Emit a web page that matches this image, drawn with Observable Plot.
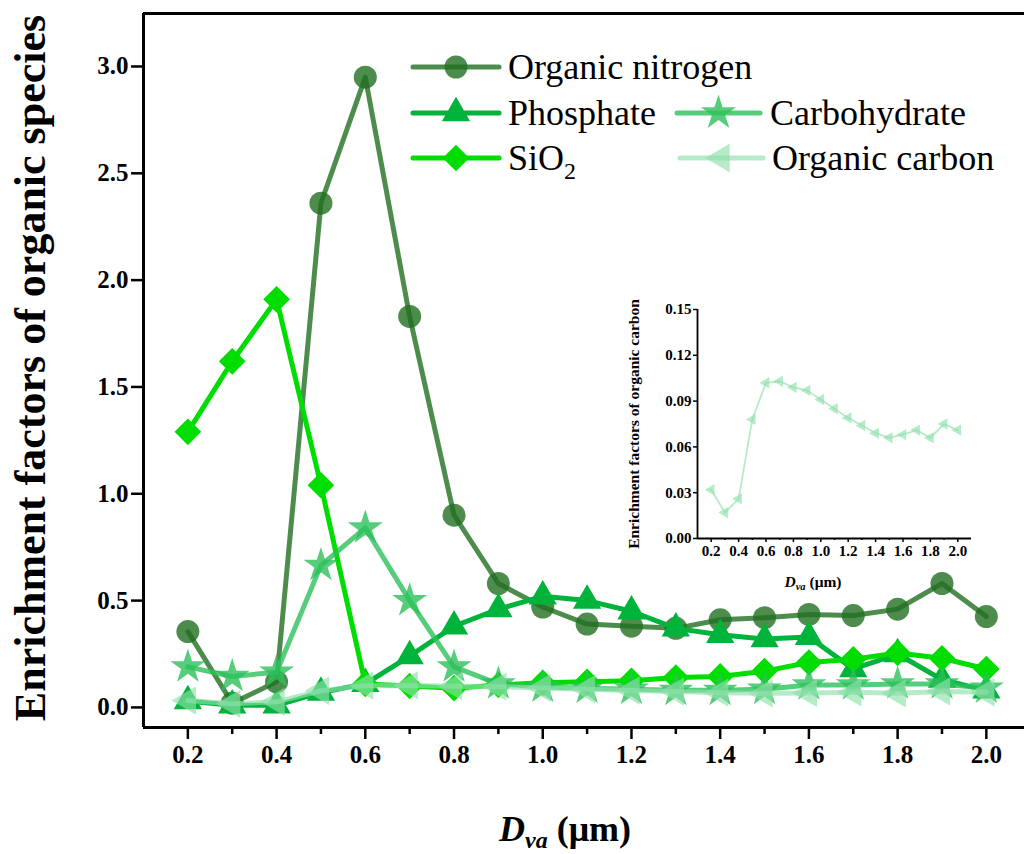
<!DOCTYPE html>
<html><head><meta charset="utf-8">
<script src="https://cdn.jsdelivr.net/npm/d3@7"></script>
<script src="https://cdn.jsdelivr.net/npm/@observablehq/plot@0.6"></script>
<style>
html,body{margin:0;padding:0;background:#fff;overflow:hidden}
#wrap{position:relative;width:1024px;height:854px}
#wrap > svg{position:absolute;left:0;top:0}
#inset{position:absolute;left:620px;top:290px}
</style></head><body><div id="wrap"><div id="inset"></div></div>
<script>
// ---------- data ----------
const sizes = [0.2,0.3,0.4,0.5,0.6,0.7,0.8,0.9,1.0,1.1,1.2,1.3,1.4,1.5,1.6,1.7,1.8,1.9,2.0];
const organicNitrogen = [0.355,0.02,0.12,2.36,2.95,1.83,0.90,0.58,0.47,0.39,0.38,0.37,0.41,0.42,0.435,0.43,0.46,0.58,0.425];
const phosphate       = [0.03,0.01,0.01,0.07,0.11,0.24,0.38,0.46,0.52,0.50,0.45,0.37,0.34,0.32,0.33,0.18,0.25,0.13,0.08];
const sio2            = [1.29,1.62,1.91,1.04,0.11,0.10,0.09,0.105,0.115,0.12,0.125,0.14,0.145,0.17,0.21,0.225,0.255,0.23,0.18];
const carbohydrate    = [0.19,0.145,0.165,0.665,0.84,0.50,0.19,0.11,0.095,0.09,0.085,0.08,0.08,0.085,0.105,0.105,0.11,0.11,0.09];
const organicCarbon   = [0.032,0.017,0.026,0.078,0.102,0.103,0.099,0.097,0.091,0.085,0.079,0.074,0.069,0.066,0.068,0.071,0.066,0.075,0.071];
const seriesNames = ["Organic nitrogen","Phosphate","SiO2","Carbohydrate","Organic carbon"];
const seriesValues = [organicNitrogen, phosphate, sio2, carbohydrate, organicCarbon];
const yTicks = [0,0.5,1.0,1.5,2.0,2.5,3.0];
const xTicksMajor = [0.2,0.4,0.6,0.8,1.0,1.2,1.4,1.6,1.8,2.0];
const xTicksMinor = [0.3,0.5,0.7,0.9,1.1,1.3,1.5,1.7,1.9];
const insetYTicks = [0,0.03,0.06,0.09,0.12,0.15];

// ---------- styles ----------
const FONT = "'Liberation Serif','Times New Roman',serif";
const triLeft = {draw(ctx, size){
  const a = Math.sqrt(size*4/Math.sqrt(3)); const h = a*Math.sqrt(3)/2;
  ctx.moveTo(-2*h/3,0); ctx.lineTo(h/3,-a/2); ctx.lineTo(h/3,a/2); ctx.closePath();
}};
const styles = {
  "Organic nitrogen": {color:"#226f22", op:0.8, symbol:"circle", r:11.5},
  "Phosphate":        {color:"#00b33a", op:1, symbol:"triangle", r:10.5},
  "SiO2":             {color:"#00dd00", op:1, symbol:"diamond2", r:12},
  "Carbohydrate":     {color:"#2cc05a", op:0.8, symbol:"star", r:11},
  "Organic carbon":   {color:"#8fe0aa", op:0.65, symbol:triLeft, r:10.5}
};

const data = seriesNames.flatMap((s,i) => sizes.map((x,j) => ({series:s, x, y: seriesValues[i][j]})));

const marks = [];
for (const s of seriesNames) {
  const st = styles[s];
  const d = data.filter(p => p.series === s);
  marks.push(Plot.line(d, {x:"x", y:"y", stroke: st.color, strokeOpacity: st.op, strokeWidth: 5}));
  marks.push(Plot.dot(d, {x:"x", y:"y", symbol: st.symbol, r: st.r, fill: st.color, fillOpacity: st.op, stroke: "none"}));
}

function fixTicks(svgNode, size) {
  d3.select(svgNode).selectAll("g[aria-label$='tick label'] text, g[aria-label$='tick label']")
    .attr("font-family", FONT).attr("font-weight", "bold").attr("font-size", size).style("font-variant", "normal");
}

const main = Plot.plot({
  width: 1024, height: 854,
  marginLeft: 143, marginTop: 13, marginRight: 0, marginBottom: 127,
  style: {fontFamily: FONT, background: "transparent", color: "#000"},
  x: {domain: [0.1, 2.086]},
  y: {domain: [-0.094, 3.248]},
  marks: [
    Plot.axisY({ticks: yTicks, tickFormat: d3.format(".1f"), tickSize: 12, tickPadding: 3, fontSize: 25, fontWeight: "bold", fontFamily: FONT, strokeWidth: 2.5, label: null}),
    Plot.axisX({ticks: xTicksMajor, tickFormat: d3.format(".1f"), tickSize: 12, tickPadding: 6, fontSize: 25, fontWeight: "bold", fontFamily: FONT, strokeWidth: 2.5, label: null}),
    Plot.axisX({ticks: xTicksMinor, tickFormat: () => "", tickSize: 7, strokeWidth: 2.5, label: null}),
    Plot.ruleX([0.1], {strokeWidth: 3}),
    Plot.ruleY([-0.094], {strokeWidth: 3}),
    Plot.ruleY([3.248], {strokeWidth: 3}),
    ...marks
  ]
});
document.getElementById("wrap").prepend(main);
fixTicks(main, 25);

// axis labels
const svg = d3.select(main);
svg.append("text").attr("transform","translate(45,368) rotate(-90)")
  .attr("text-anchor","middle")
  .attr("font-family",FONT).attr("font-weight","bold").attr("font-size",44)
  .text("Enrichment factors of organic species");
const xl = svg.append("text").attr("x",565).attr("y",841).attr("text-anchor","middle")
  .attr("font-family",FONT).attr("font-weight","bold").attr("font-size",36);
xl.append("tspan").attr("font-style","italic").text("D");
xl.append("tspan").attr("font-style","italic").attr("font-size",24).attr("dy",7).text("va");
xl.append("tspan").attr("dy",-7).text(" (μm)");

// legend
const legendLayout = [
  {name:"Organic nitrogen", x0:413, x1:499, y:67, tx:508},
  {name:"Phosphate", x0:413, x1:499, y:113, tx:508},
  {name:"SiO2", x0:413, x1:499, y:158, tx:508},
  {name:"Carbohydrate", x0:677, x1:760, y:113, tx:770},
  {name:"Organic carbon", x0:680, x1:763, y:158, tx:772}
];
const lg = svg.append("g").attr("text-anchor","start");
for (const L of legendLayout) {
  const st = styles[L.name];
  lg.append("line").attr("x1",L.x0).attr("x2",L.x1).attr("y1",L.y).attr("y2",L.y)
    .attr("stroke",st.color).attr("stroke-opacity",st.op).attr("stroke-width",5).attr("stroke-linecap","round");
  const symType = typeof st.symbol === "string" ? {circle:d3.symbolCircle, triangle:d3.symbolTriangle, diamond2:d3.symbolDiamond2, star:d3.symbolStar}[st.symbol] : st.symbol;
  lg.append("path").attr("transform",`translate(${(L.x0+L.x1)/2},${L.y})`)
    .attr("d", d3.symbol(symType, Math.PI*st.r*st.r)())
    .attr("fill",st.color).attr("fill-opacity",st.op);
  const t = lg.append("text").attr("x",L.tx).attr("y",L.y+12).attr("text-anchor","start")
    .attr("font-family",FONT).attr("font-weight","normal").attr("font-size",36).attr("fill","#000");
  if (L.name === "SiO2") { t.append("tspan").text("SiO"); t.append("tspan").attr("font-size",24).attr("dy",9).text("2"); }
  else t.text(L.name);
}

// ---------- inset ----------
const ocData = sizes.map((x,j) => ({x, y: organicCarbon[j]}));
const inset = Plot.plot({
  width: 400, height: 315,
  marginLeft: 77, marginTop: 19, marginRight: 49, marginBottom: 67,
  style: {fontFamily: FONT, background: "transparent", color: "#000"},
  x: {domain: [0.1, 2.1]},
  y: {domain: [0, 0.15]},
  marks: [
    Plot.axisY({ticks: insetYTicks, tickFormat: d3.format(".2f"), tickSize: 4, tickPadding: 2, fontSize: 15, fontWeight: "bold", fontFamily: FONT, strokeWidth: 1.5, label: null}),
    Plot.axisX({ticks: xTicksMajor, tickFormat: d3.format(".1f"), tickSize: 4, tickPadding: 3, fontSize: 15, fontWeight: "bold", fontFamily: FONT, strokeWidth: 1.5, label: null}),
    Plot.axisX({ticks: xTicksMinor, tickFormat: () => "", tickSize: 2, strokeWidth: 1.5, label: null}),
    Plot.ruleX([0.1], {strokeWidth: 1.8}),
    Plot.ruleY([0], {strokeWidth: 1.8}),
    Plot.line(ocData, {x:"x", y:"y", stroke: "#8fe0aa", strokeOpacity: 0.65, strokeWidth: 1.8}),
    Plot.dot(ocData, {x:"x", y:"y", symbol: triLeft, r: 4.2, fill: "#8fe0aa", fillOpacity: 0.65, stroke: "none"})
  ]
});
document.getElementById("inset").append(inset);
fixTicks(inset, 15);
const isvg = d3.select(inset);
isvg.append("text").attr("transform","translate(19,134) rotate(-90)")
  .attr("text-anchor","middle")
  .attr("font-family",FONT).attr("font-weight","bold").attr("font-size",15.5)
  .text("Enrichment factors of organic carbon");
const ixl = isvg.append("text").attr("x",193).attr("y",297).attr("text-anchor","middle")
  .attr("font-family",FONT).attr("font-weight","bold").attr("font-size",15.5);
ixl.append("tspan").attr("font-style","italic").text("D");
ixl.append("tspan").attr("font-style","italic").attr("font-size",10.5).attr("dy",3).text("va");
ixl.append("tspan").attr("dy",-3).text(" (μm)");
</script></body></html>
